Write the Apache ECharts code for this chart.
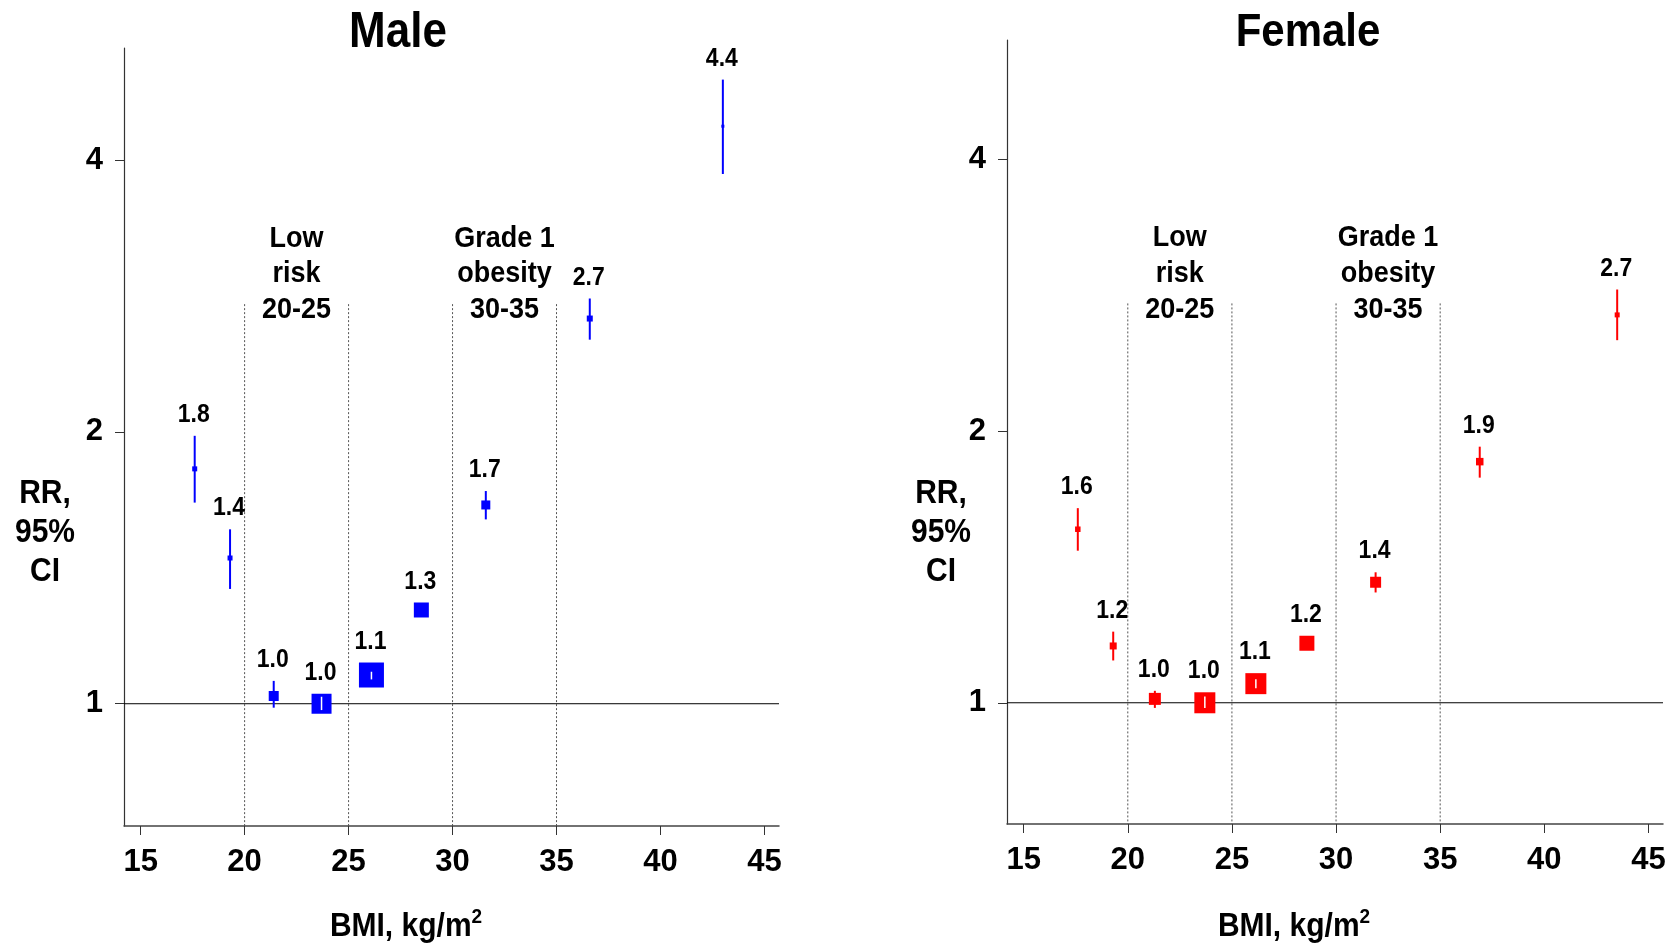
<!DOCTYPE html>
<html>
<head>
<meta charset="utf-8">
<script src="https://cdn.jsdelivr.net/npm/echarts@6/dist/echarts.min.js"></script>
<style>
  html, body { margin: 0; padding: 0; background: #fff; }
  #chart { width: 1672px; height: 944px; }
</style>
</head>
<body>
<div id="chart"></div>
<script>
// ---------------- data ----------------
const bmiTicks = [15, 20, 25, 30, 35, 40, 45];
const rrTicks = [1, 2, 4];
const zoneBounds = [20, 25, 30, 35];
const zoneCenters = [22.5, 32.5];
const zoneLabels = ['Low\nrisk\n20-25', 'Grade 1\nobesity\n30-35'];
const zoneTop = 2.77;

const maleBMI    = [17.6, 19.3, 21.4, 23.7, 26.1, 28.5, 31.6, 36.6, 43.0];
const maleRR     = [1.82, 1.45, 1.02, 1.00, 1.076, 1.27, 1.66, 2.67, 4.36];
const maleLow    = [1.67, 1.34, 0.99, 0.984, 1.064, 1.27, 1.60, 2.53, 3.86];
const maleHigh   = [1.98, 1.56, 1.06, 1.018, 1.085, 1.27, 1.72, 2.81, 4.91];
const maleWeight = [5, 5, 10, 20, 25, 15, 9, 6, 3];
const maleLabels = ['1.8', '1.4', '1.0', '1.0', '1.1', '1.3', '1.7', '2.7', '4.4'];

const femaleBMI    = [17.6, 19.3, 21.3, 23.7, 26.15, 28.6, 31.9, 36.9, 43.5];
const femaleRR     = [1.557, 1.156, 1.01, 1.00, 1.05, 1.164, 1.36, 1.85, 2.69];
const femaleLow    = [1.474, 1.114, 0.987, 0.987, 1.038, 1.164, 1.325, 1.776, 2.522];
const femaleHigh   = [1.643, 1.199, 1.031, 1.016, 1.062, 1.164, 1.395, 1.922, 2.87];
const femaleWeight = [5.5, 7, 12, 21, 21, 15, 11, 7.5, 5];
const femaleLabels = ['1.6', '1.2', '1.0', '1.0', '1.1', '1.2', '1.4', '1.9', '2.7'];

// ---------------- rendering ----------------
const FONT = '"Liberation Sans", Arial, Helvetica, sans-serif';

function pointData(bmi, rr, lo, hi, w) {
  return bmi.map((b, i) => [b, rr[i], lo[i], hi[i], w[i]]);
}

function pointRenderer(color, labels) {
  return function (params, api) {
    const x = api.value(0), rr = api.value(1), lo = api.value(2), hi = api.value(3), w = api.value(4);
    const c = api.coord([x, rr]);
    const pLo = api.coord([x, lo]);
    const pHi = api.coord([x, hi]);
    const half = w / 2;
    const children = [];
    const inside = pHi[1] >= c[1] - half && pLo[1] <= c[1] + half;
    const len = pLo[1] - pHi[1];
    if (!inside && len > 0.5) {
      children.push({
        type: 'line',
        shape: { x1: c[0], y1: pHi[1], x2: c[0], y2: pLo[1] },
        style: { stroke: color, lineWidth: 2 }
      });
    }
    children.push({
      type: 'rect',
      shape: { x: c[0] - half, y: c[1] - half, width: w, height: w },
      style: { fill: color }
    });
    if (inside && len > 0.5) {
      children.push({
        type: 'line',
        shape: { x1: c[0], y1: pHi[1], x2: c[0], y2: pLo[1] },
        style: { stroke: '#ffffff', lineWidth: 1.5 }
      });
    }
    const top = Math.min(pHi[1], c[1] - half);
    children.push({
      type: 'text',
      x: c[0] - 1,
      y: top - 21,
      scaleY: 1.12,
      style: {
        text: labels[params.dataIndex],
        fill: '#000',
        fontSize: 23,
        fontWeight: 'bold',
        fontFamily: FONT,
        align: 'center',
        verticalAlign: 'middle'
      }
    });
    return { type: 'group', children };
  };
}

function zoneLineRenderer(params, api) {
  const x = api.value(0);
  const pTop = api.coord([x, zoneTop]);
  const cs = params.coordSys;
  return {
    type: 'line',
    shape: { x1: pTop[0], y1: pTop[1], x2: pTop[0], y2: cs.y + cs.height },
    style: { stroke: '#555', lineWidth: 1, lineDash: [2, 2] }
  };
}

function zoneLabelRenderer(params, api) {
  const p = api.coord([api.value(0), zoneTop]);
  return {
    type: 'text',
    x: p[0],
    y: p[1] - 30,
    scaleY: 1.12,
    style: {
      text: zoneLabels[params.dataIndex],
      fill: '#000',
      fontSize: 27,
      fontWeight: 'bold',
      fontFamily: FONT,
      lineHeight: 32,
      align: 'center',
      verticalAlign: 'middle'
    }
  };
}

function refLineRenderer(params, api) {
  const p = api.coord([20, api.value(0)]);
  const cs = params.coordSys;
  return {
    type: 'line',
    shape: { x1: cs.x, y1: p[1], x2: cs.x + cs.width, y2: p[1] },
    style: { stroke: '#000', lineWidth: 1 }
  };
}

function xAxisDef(idx) {
  return {
    type: 'value', gridIndex: idx, min: 14.2, max: 45.7,
    axisLine: { show: true, onZero: false, lineStyle: { color: '#444', width: 1.5 } },
    axisTick: { show: true, length: 9, customValues: bmiTicks, lineStyle: { color: '#333' } },
    axisLabel: { customValues: bmiTicks, fontSize: 31, fontWeight: 'bold', color: '#000', fontFamily: FONT, margin: 21 },
    splitLine: { show: false }
  };
}
function yAxisDef(idx, min, max) {
  return {
    type: 'log', logBase: 2, gridIndex: idx, min: min, max: max,
    axisLine: { show: true, onZero: false, lineStyle: { color: '#333', width: 1.2 } },
    axisTick: { show: true, length: 9, customValues: rrTicks, lineStyle: { color: '#333' } },
    axisLabel: { customValues: rrTicks, fontSize: 31, fontWeight: 'bold', color: '#000', fontFamily: FONT, margin: 21 },
    splitLine: { show: false }
  };
}

function panelSeries(idx, color, bmi, rr, lo, hi, w, labels) {
  return [
    { type: 'custom', xAxisIndex: idx, yAxisIndex: idx, data: zoneBounds.map(v => [v]),
      encode: { x: 0 }, renderItem: zoneLineRenderer, z: 1, silent: true, clip: false },
    { type: 'custom', xAxisIndex: idx, yAxisIndex: idx, data: [[1]],
      encode: { y: 0 }, renderItem: refLineRenderer, z: 2, silent: true, clip: false },
    { type: 'custom', xAxisIndex: idx, yAxisIndex: idx, data: zoneCenters.map(v => [v]),
      encode: { x: 0 }, renderItem: zoneLabelRenderer, z: 3, silent: true, clip: false },
    { type: 'custom', xAxisIndex: idx, yAxisIndex: idx, data: pointData(bmi, rr, lo, hi, w),
      encode: { x: 0, y: 1 }, renderItem: pointRenderer(color, labels), z: 5, clip: false }
  ];
}

function txt(x, y, text, size, extra, scaleY) {
  return {
    type: 'text', x: x, y: y, scaleY: scaleY || 1,
    style: Object.assign({
      text: text, fill: '#000', fontSize: size, fontWeight: 'bold', fontFamily: FONT,
      align: 'center', verticalAlign: 'middle'
    }, extra || {})
  };
}

const bmiRich = {
  b: { fontSize: 30, fontWeight: 'bold', fontFamily: FONT, fill: '#000', lineHeight: 34, verticalAlign: 'bottom' },
  s: { fontSize: 19, fontWeight: 'bold', fontFamily: FONT, fill: '#000', lineHeight: 34, verticalAlign: 'top', padding: [0, 0, 12, 0] }
};

const chart = echarts.init(document.getElementById('chart'), null, { renderer: 'canvas' });
chart.setOption({
  animation: false,
  backgroundColor: '#fff',
  grid: [
    { left: 124, top: 48, width: 655, height: 778, containLabel: false },
    { left: 1007, top: 40, width: 656, height: 784, containLabel: false }
  ],
  xAxis: [xAxisDef(0), xAxisDef(1)],
  yAxis: [yAxisDef(0, 0.7322, 5.322), yAxisDef(1, 0.734, 5.424)],
  series: [].concat(
    panelSeries(0, '#0000ff', maleBMI, maleRR, maleLow, maleHigh, maleWeight, maleLabels),
    panelSeries(1, '#ff0000', femaleBMI, femaleRR, femaleLow, femaleHigh, femaleWeight, femaleLabels)
  ),
  graphic: [
    txt(398, 33, 'Male', 44, null, 1.12),
    txt(1308, 33, 'Female', 42, null, 1.12),
    txt(45, 533, 'RR,\n95%\nCI', 30, { lineHeight: 36 }, 1.08),
    txt(941, 533, 'RR,\n95%\nCI', 30, { lineHeight: 36 }, 1.08),
    txt(406, 925, '{b|BMI, kg/m}{s|2}', 30, { rich: bmiRich }, 1.08),
    txt(1294, 925, '{b|BMI, kg/m}{s|2}', 30, { rich: bmiRich }, 1.08)
  ]
});
</script>
</body>
</html>
